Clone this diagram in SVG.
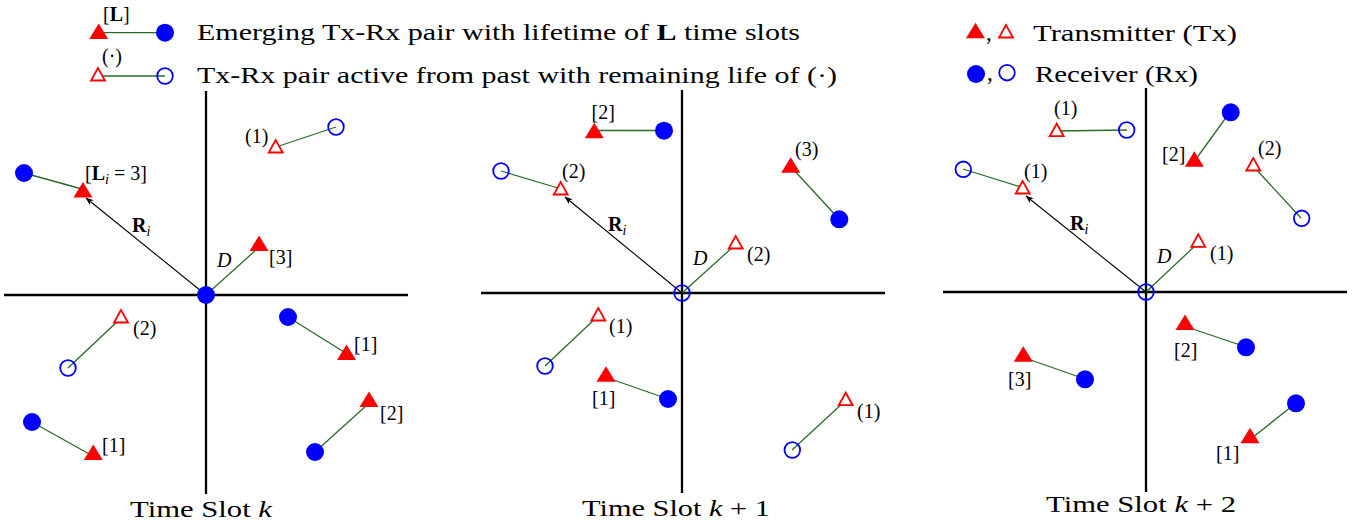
<svg xmlns="http://www.w3.org/2000/svg" xmlns:xlink="http://www.w3.org/1999/xlink" width="1364" height="525" viewBox="0 0 1364 525">
<style>
.axis{stroke:#000;stroke-width:2.3;fill:none}
.link{stroke:#2a6a2a;stroke-width:1.3;fill:none}
.vec{stroke:#000;stroke-width:1.1;fill:none}
.rxf{fill:#0000ff}
.rxh{fill:none;stroke:#0000ff;stroke-width:1.8}
.lbl{font-family:"Liberation Serif",serif;font-size:20px;fill:#000}
.leg{font-family:"Liberation Serif",serif;font-size:23px;fill:#000}
.ttl{font-family:"Liberation Serif",serif;font-size:23px;fill:#000}
.b{font-weight:bold}
.it{font-style:italic}
</style>
<defs>
<polygon id="tf" points="0,-10.5 -9.5,5 9.5,5" fill="#ff0000"/>
<polygon id="th" points="0,-8 -7,4.5 7,4.5" fill="#fff" stroke="#ff0000" stroke-width="1.8"/>
<marker id="arr" viewBox="0 0 10 10" refX="9.5" refY="5" markerWidth="8" markerHeight="8" orient="auto" markerUnits="userSpaceOnUse">
<path d="M0,1 L10,5 L0,9 L3,5 z" fill="#000"/>
</marker>
</defs>
<rect width="1364" height="525" fill="#fff"/>

<g id="axes">
<line class="axis" x1="206" y1="91" x2="206" y2="494"/>
<line class="axis" x1="4" y1="295" x2="408" y2="295"/>
<line class="axis" x1="682" y1="90" x2="682" y2="493"/>
<line class="axis" x1="481" y1="293" x2="885" y2="293"/>
<line class="axis" x1="1146" y1="88" x2="1146" y2="492"/>
<line class="axis" x1="943" y1="292" x2="1347" y2="292"/>
</g>

<g id="connectors">
<line class="link" x1="100" y1="32.7" x2="165" y2="32.7"/>
<line class="link" x1="98" y1="76" x2="165" y2="76"/>
<line class="link" x1="24" y1="173" x2="82" y2="189"/>
<line class="vec" x1="206" y1="295" x2="86" y2="198" marker-end="url(#arr)"/>
<line class="link" x1="276" y1="147" x2="336" y2="127"/>
<line class="link" x1="206" y1="295" x2="257" y2="249"/>
<line class="link" x1="68" y1="368" x2="119" y2="320"/>
<line class="link" x1="288" y1="317" x2="344" y2="352"/>
<line class="link" x1="315" y1="452" x2="367" y2="405"/>
<line class="link" x1="32" y1="422" x2="91" y2="455"/>
<line class="link" x1="596" y1="130.5" x2="664" y2="130.5"/>
<line class="link" x1="501" y1="171" x2="558" y2="188"/>
<line class="vec" x1="682" y1="293" x2="565" y2="197" marker-end="url(#arr)"/>
<line class="link" x1="792" y1="168" x2="839" y2="219"/>
<line class="link" x1="682" y1="293" x2="734" y2="246"/>
<line class="link" x1="545" y1="366" x2="597" y2="317"/>
<line class="link" x1="608" y1="378" x2="668" y2="399"/>
<line class="link" x1="792" y1="450" x2="844" y2="402"/>
<line class="link" x1="1057" y1="131" x2="1127" y2="130"/>
<line class="link" x1="1230" y1="112" x2="1196" y2="159"/>
<line class="link" x1="1254" y1="167" x2="1301" y2="218"/>
<line class="link" x1="963" y1="169" x2="1021" y2="187"/>
<line class="vec" x1="1146" y1="292" x2="1026" y2="196" marker-end="url(#arr)"/>
<line class="link" x1="1146" y1="292" x2="1197" y2="244"/>
<line class="link" x1="1187" y1="327" x2="1246" y2="347"/>
<line class="link" x1="1025" y1="358" x2="1085" y2="379"/>
<line class="link" x1="1296" y1="403" x2="1252" y2="438"/>
</g>

<g id="legend-emerging">
<use href="#tf" x="98.7" y="34"/>
<circle class="rxf" cx="165" cy="32.7" r="9"/>
<text class="lbl" x="103" y="21">[<tspan class="b">L</tspan>]</text>
<text class="leg" x="197" y="40" textLength="603" lengthAdjust="spacingAndGlyphs">Emerging Tx-Rx pair with lifetime of <tspan class="b">L</tspan> time slots</text>
</g>
<g id="legend-active">
<use href="#th" x="98" y="76"/>
<circle class="rxh" cx="165" cy="76" r="7.8"/>
<text class="lbl" x="102" y="63">(·)</text>
<text class="leg" x="197" y="83" textLength="640" lengthAdjust="spacingAndGlyphs">Tx-Rx pair active from past with remaining life of (·)</text>
</g>
<g id="legend-tx">
<use href="#tf" x="975.5" y="33.3"/>
<text class="leg" x="986" y="40">,</text>
<use href="#th" x="1006" y="33"/>
<text class="leg" x="1033" y="41" textLength="204" lengthAdjust="spacingAndGlyphs">Transmitter (Tx)</text>
</g>
<g id="legend-rx">
<circle class="rxf" cx="976" cy="74" r="9"/>
<text class="leg" x="987" y="80">,</text>
<circle class="rxh" cx="1007" cy="72.7" r="7.8"/>
<text class="leg" x="1035" y="82" textLength="163" lengthAdjust="spacingAndGlyphs">Receiver (Rx)</text>
</g>

<g id="p1-origin"><circle class="rxf" cx="206" cy="295" r="9"/></g>
<g id="p1-rxA"><circle class="rxf" cx="24" cy="173" r="9"/></g>
<g id="p1-txA"><use href="#tf" x="83" y="192.5"/><text class="lbl" x="85" y="180">[<tspan class="b">L</tspan><tspan class="it" font-size="14" dy="4">i</tspan><tspan dy="-4"> = 3]</tspan></text></g>
<g id="p1-Ri"><text class="lbl" x="132" y="232"><tspan class="b">R</tspan><tspan class="it" font-size="14" dy="4">i</tspan></text></g>
<g id="p1-txB"><use href="#th" x="275.7" y="148"/><text class="lbl" x="245" y="143">(1)</text></g>
<g id="p1-rxB"><circle class="rxh" cx="336" cy="127" r="7.8"/></g>
<g id="p1-txC"><use href="#tf" x="259" y="246"/><text class="lbl" x="269" y="264">[3]</text></g>
<g id="p1-D"><text class="lbl it" x="217" y="267">D</text></g>
<g id="p1-txD"><use href="#th" x="121" y="318"/><text class="lbl" x="133" y="335">(2)</text></g>
<g id="p1-rxD"><circle class="rxh" cx="68" cy="368" r="7.8"/></g>
<g id="p1-rxE"><circle class="rxf" cx="288" cy="317" r="9"/></g>
<g id="p1-txE"><use href="#tf" x="346.5" y="355"/><text class="lbl" x="354" y="351">[1]</text></g>
<g id="p1-txF"><use href="#tf" x="369" y="402"/><text class="lbl" x="380" y="420">[2]</text></g>
<g id="p1-rxF"><circle class="rxf" cx="315" cy="452" r="9"/></g>
<g id="p1-rxG"><circle class="rxf" cx="32" cy="422" r="9"/></g>
<g id="p1-txG"><use href="#tf" x="93.3" y="455"/><text class="lbl" x="102" y="452">[1]</text></g>
<g id="p1-title"><text class="ttl" x="130" y="517" textLength="142" lengthAdjust="spacingAndGlyphs">Time Slot <tspan class="it">k</tspan></text></g>

<g id="p2-origin"><circle class="rxh" cx="682" cy="293" r="7.8"/></g>
<g id="p2-txA"><use href="#tf" x="594.3" y="133.3"/><text class="lbl" x="591.5" y="119">[2]</text></g>
<g id="p2-rxA"><circle class="rxf" cx="664" cy="130.7" r="9"/></g>
<g id="p2-rxB"><circle class="rxh" cx="501" cy="171" r="7.8"/></g>
<g id="p2-txB"><use href="#th" x="560.7" y="190"/><text class="lbl" x="562" y="178">(2)</text></g>
<g id="p2-Ri"><text class="lbl" x="608" y="231"><tspan class="b">R</tspan><tspan class="it" font-size="14" dy="4">i</tspan></text></g>
<g id="p2-txC"><use href="#tf" x="790.7" y="167.7"/><text class="lbl" x="795" y="156">(3)</text></g>
<g id="p2-rxC"><circle class="rxf" cx="839.3" cy="219.3" r="9"/></g>
<g id="p2-txD"><use href="#th" x="735.7" y="244"/><text class="lbl" x="747" y="261">(2)</text></g>
<g id="p2-D"><text class="lbl it" x="693" y="265">D</text></g>
<g id="p2-txE"><use href="#th" x="598.3" y="316"/><text class="lbl" x="609" y="333">(1)</text></g>
<g id="p2-rxE"><circle class="rxh" cx="545" cy="366" r="7.8"/></g>
<g id="p2-txF"><use href="#tf" x="606" y="376.7"/><text class="lbl" x="592" y="405">[1]</text></g>
<g id="p2-rxF"><circle class="rxf" cx="668" cy="399" r="9"/></g>
<g id="p2-txG"><use href="#th" x="845.7" y="400.7"/><text class="lbl" x="857" y="418">(1)</text></g>
<g id="p2-rxG"><circle class="rxh" cx="792.3" cy="450" r="7.8"/></g>
<g id="p2-title"><text class="ttl" x="582" y="516" textLength="188" lengthAdjust="spacingAndGlyphs">Time Slot <tspan class="it">k</tspan> + 1</text></g>

<g id="p3-origin"><circle class="rxh" cx="1146" cy="292" r="7.8"/></g>
<g id="p3-txA"><use href="#th" x="1056.7" y="131.7"/><text class="lbl" x="1054" y="115">(1)</text></g>
<g id="p3-rxA"><circle class="rxh" cx="1126.7" cy="130" r="7.8"/></g>
<g id="p3-rxB"><circle class="rxf" cx="1230.7" cy="112.3" r="9"/></g>
<g id="p3-txB"><use href="#tf" x="1194.3" y="161.7"/><text class="lbl" x="1162" y="161">[2]</text></g>
<g id="p3-txC"><use href="#th" x="1253.3" y="166"/><text class="lbl" x="1258" y="155">(2)</text></g>
<g id="p3-rxC"><circle class="rxh" cx="1301.7" cy="218.3" r="7.8"/></g>
<g id="p3-rxD"><circle class="rxh" cx="963.3" cy="169.3" r="7.8"/></g>
<g id="p3-txD"><use href="#th" x="1022.7" y="189"/><text class="lbl" x="1024" y="178">(1)</text></g>
<g id="p3-Ri"><text class="lbl" x="1070" y="230"><tspan class="b">R</tspan><tspan class="it" font-size="14" dy="4">i</tspan></text></g>
<g id="p3-txE"><use href="#th" x="1198.3" y="242.3"/><text class="lbl" x="1210" y="260">(1)</text></g>
<g id="p3-D"><text class="lbl it" x="1157" y="263">D</text></g>
<g id="p3-txF"><use href="#tf" x="1185" y="325"/><text class="lbl" x="1174" y="357">[2]</text></g>
<g id="p3-rxF"><circle class="rxf" cx="1246" cy="347.3" r="9"/></g>
<g id="p3-txG"><use href="#tf" x="1023.3" y="356.7"/><text class="lbl" x="1008" y="386">[3]</text></g>
<g id="p3-rxG"><circle class="rxf" cx="1085" cy="379.3" r="9"/></g>
<g id="p3-rxH"><circle class="rxf" cx="1296" cy="403.3" r="9"/></g>
<g id="p3-txH"><use href="#tf" x="1250" y="438.3"/><text class="lbl" x="1216" y="460">[1]</text></g>
<g id="p3-title"><text class="ttl" x="1046" y="512" textLength="190" lengthAdjust="spacingAndGlyphs">Time Slot <tspan class="it">k</tspan> + 2</text></g>
</svg>
